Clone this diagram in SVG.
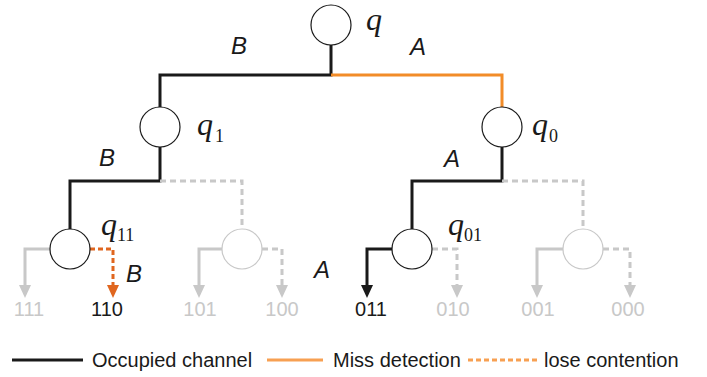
<svg xmlns="http://www.w3.org/2000/svg" width="707" height="377" viewBox="0 0 707 377">
  <style>
    .node { fill: #ffffff; stroke: #1a1a1a; stroke-width: 1.2; }
    .ghost { fill: #ffffff; stroke: #c8c8c8; stroke-width: 1.2; }
    .occ { fill: none; stroke: #1a1a1a; stroke-width: 3; }
    .miss { fill: none; stroke: #f28c28; stroke-width: 3; }
    .lose { fill: none; stroke: #e0661f; stroke-width: 3; stroke-dasharray: 5 3; }
    .idle { fill: none; stroke: #c8c8c8; stroke-width: 3; }
    .idle-d { fill: none; stroke: #c8c8c8; stroke-width: 3; stroke-dasharray: 6 4; }
    .q { font-family: "Liberation Serif", "Times New Roman", serif; font-style: italic; font-size: 32px; fill: #1a1a1a; }
    .sub { font-family: "Liberation Serif", "Times New Roman", serif; font-size: 18px; fill: #1a1a1a; font-style: normal; }
    .ab { font-family: "Liberation Sans", Arial, sans-serif; font-style: italic; font-size: 24px; fill: #1a1a1a; }
    .leaf { font-family: "Liberation Sans", Arial, sans-serif; font-size: 20px; fill: #c8c8c8; text-anchor: middle; }
    .leaf.on { fill: #1a1a1a; }
    .lg { font-family: "Liberation Sans", Arial, sans-serif; font-size: 20px; fill: #1a1a1a; }
  </style>
  <defs>
    <marker id="arr-k" markerUnits="userSpaceOnUse" markerWidth="14" markerHeight="14" refX="5" refY="6" orient="auto">
      <path d="M0,0 L13,6 L0,12 z" fill="#1a1a1a"/>
    </marker>
    <marker id="arr-g" markerUnits="userSpaceOnUse" markerWidth="14" markerHeight="14" refX="5" refY="6" orient="auto">
      <path d="M0,0 L13,6 L0,12 z" fill="#c8c8c8"/>
    </marker>
    <marker id="arr-o" markerUnits="userSpaceOnUse" markerWidth="14" markerHeight="14" refX="5" refY="6" orient="auto">
      <path d="M0,0 L13,6 L0,12 z" fill="#e0661f"/>
    </marker>
  </defs>

  <!-- connectors -->
  <g id="connectors">
    <!-- root q -->
    <path class="occ" d="M331,45 V75 H160 V107"/>
    <path class="miss" d="M331,75 H502 V107"/>
    <!-- q1 -->
    <path class="occ" d="M160,147 V181 H70 V229"/>
    <path class="idle-d" d="M160,181 H242 V229"/>
    <!-- q0 -->
    <path class="occ" d="M502,147 V181 H412 V229"/>
    <path class="idle-d" d="M502,181 H583 V229"/>
    <!-- q11 -->
    <path class="idle" d="M50,249 H25 V290" marker-end="url(#arr-g)"/>
    <path class="lose" d="M90,249 H113 V290" marker-end="url(#arr-o)"/>
    <!-- q10 -->
    <path class="idle" d="M222,249 H199 V290" marker-end="url(#arr-g)"/>
    <path class="idle-d" d="M262,249 H282 V290" marker-end="url(#arr-g)"/>
    <!-- q01 -->
    <path class="occ" d="M392,249 H367 V290" marker-end="url(#arr-k)"/>
    <path class="idle-d" d="M432,249 H457 V290" marker-end="url(#arr-g)"/>
    <!-- q00 -->
    <path class="idle" d="M563,249 H537 V290" marker-end="url(#arr-g)"/>
    <path class="idle-d" d="M603,249 H630 V290" marker-end="url(#arr-g)"/>

    <!-- branch labels -->
    <text class="ab" x="231" y="54">B</text>
    <text class="ab" x="410" y="55">A</text>
    <text class="ab" x="99" y="166">B</text>
    <text class="ab" x="444" y="167">A</text>
    <text class="ab" x="126" y="282">B</text>
    <text class="ab" x="314" y="278">A</text>
  </g>

  <!-- nodes -->
  <g id="q">
    <circle class="node" cx="331" cy="25" r="20"/>
    <text class="q" x="366" y="30">q</text>
  </g>
  <g id="q1">
    <circle class="node" cx="160" cy="127" r="20"/>
    <text class="q" x="197" y="135">q</text>
    <text class="sub" x="215" y="142">1</text>
  </g>
  <g id="q0">
    <circle class="node" cx="502" cy="127" r="20"/>
    <text class="q" x="532" y="135">q</text>
    <text class="sub" x="549" y="142">0</text>
  </g>
  <g id="q11">
    <circle class="node" cx="70" cy="249" r="20"/>
    <text class="q" x="101" y="235">q</text>
    <text class="sub" x="117" y="241">11</text>
  </g>
  <g id="q10">
    <circle class="ghost" cx="242" cy="249" r="20"/>
  </g>
  <g id="q01">
    <circle class="node" cx="412" cy="249" r="20"/>
    <text class="q" x="448" y="235">q</text>
    <text class="sub" x="464" y="241">01</text>
  </g>
  <g id="q00">
    <circle class="ghost" cx="583" cy="249" r="20"/>
  </g>

  <!-- leaves -->
  <g id="leaves">
    <text class="leaf" x="29" y="316">111</text>
    <text class="leaf on" x="107" y="316">110</text>
    <text class="leaf" x="200" y="316">101</text>
    <text class="leaf" x="282" y="316">100</text>
    <text class="leaf on" x="371" y="316">011</text>
    <text class="leaf" x="453" y="316">010</text>
    <text class="leaf" x="538" y="316">001</text>
    <text class="leaf" x="628" y="316">000</text>
  </g>

  <!-- legend -->
  <g id="legend">
    <line x1="12" y1="360" x2="83" y2="360" stroke="#1a1a1a" stroke-width="3"/>
    <text class="lg" x="92" y="367">Occupied channel</text>
    <line x1="267" y1="360" x2="323" y2="360" stroke="#f7a052" stroke-width="3"/>
    <text class="lg" x="333" y="367">Miss detection</text>
    <line x1="468" y1="360" x2="538" y2="360" stroke="#f7a052" stroke-width="3" stroke-dasharray="5 3"/>
    <text class="lg" x="544" y="367">lose contention</text>
  </g>
</svg>
